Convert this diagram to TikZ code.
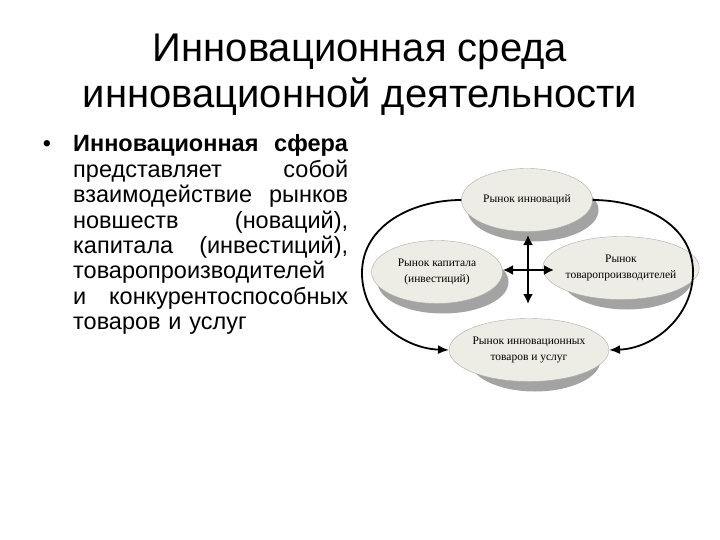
\documentclass[tikz,border=0pt]{standalone}
\usepackage{fontspec}
\setmainfont{Liberation Sans}
\newfontfamily\serifont{Liberation Serif}
\usetikzlibrary{arrows.meta,shapes.geometric}
\definecolor{mfill}{HTML}{EDEDE5}
\definecolor{shadowgray}{HTML}{A3A3A3}
\newcommand{\jline}[2]{\makebox[275pt][l]{#1\hfill #2}}
\begin{document}
\begin{tikzpicture}[x=1pt,y=-1pt,
  mkt/.style={ellipse, draw=gray!65, fill=mfill, minimum width=131pt, minimum height=63pt, inner sep=0pt, align=center, font=\serifont\fontsize{11.5}{16}\selectfont},
  shadowel/.style={ellipse, fill=shadowgray, minimum width=131pt, minimum height=63pt, inner sep=0pt},
  loopar/.style={line width=1.8pt, -{Latex[length=11pt,width=9pt]}},
  crossar/.style={line width=2.4pt, {Latex[length=10pt,width=10pt]}-{Latex[length=10pt,width=10pt]}},
]
\useasboundingbox (0,0) rectangle (720,540);
% title
\node[anchor=base] (t1) at (360,62) {\fontsize{40}{46}\selectfont Инновационная среда};
\node[anchor=base] (t2) at (360,108) {\fontsize{40}{46}\selectfont инновационной деятельности};
% bullet text
\node[anchor=base, inner sep=0pt] (bul) at (47,152) {\fontsize{23.5}{25.4}\selectfont •};
\node[anchor=base west, inner sep=0pt, text width=275pt, align=left, font=\fontsize{23.5}{25.4}\selectfont] (para) at (73,152) {%
\jline{\textbf{Инновационная}}{\textbf{сфера}}\\
\jline{представляет}{собой}\\
\jline{взаимодействие}{рынков}\\
\jline{новшеств}{(новаций),}\\
\jline{капитала}{(инвестиций),}\\
товаропроизводителей\\
\jline{и}{конкурентоспособных}\\
товаров и услуг};
% shadows
\node[shadowel] (stop) at (533,210) {};
\node[shadowel] (sleft) at (443,282) {};
\node[shadowel] (sright) at (627,278) {};
\node[shadowel] (sbot) at (535,360) {};
% ellipses
\node[mkt] (top) at (527,200) {Рынок инноваций};
\node[mkt] (left) at (437,272) {Рынок капитала\\(инвестиций)};
\node[mkt] (right) at (621,268) {Рынок\\товаропроизводителей};
\node[mkt] (bot) at (529,350) {Рынок инновационных\\товаров и услуг};
% cross
\coordinate (cbot) at (528,304);
\coordinate (cright) at (554,270);
\coordinate (cleft) at (503,270);
\coordinate (ctop) at (528,235);
\draw[crossar] (ctop) -- (cbot);
\draw[crossar] (cleft) -- (cright);
% loops
\coordinate (lmid) at (362,273);
\coordinate (rmid) at (693,272);
\draw[loopar] (top.west) to[out=180,in=90] (lmid) to[out=-90,in=178] (bot.west);
\draw[loopar] (top.east) to[out=0,in=90] (rmid) to[out=-90,in=2] (bot.east);
\end{tikzpicture}
\end{document}
